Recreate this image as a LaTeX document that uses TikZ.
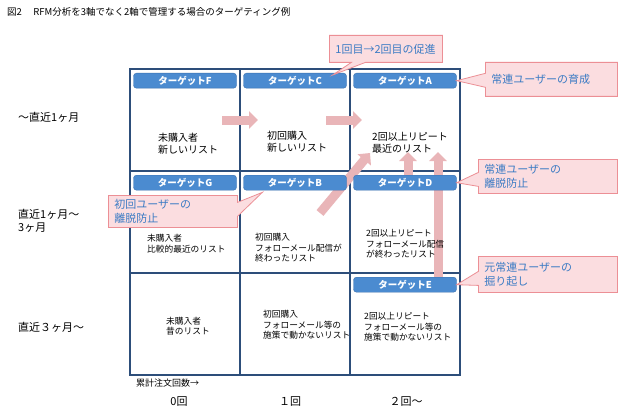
\documentclass[tikz,border=0pt]{standalone}
\usepackage{fontspec}
\setmainfont{Noto Sans CJK JP}
\usetikzlibrary{shapes.callouts, arrows.meta, positioning}

\definecolor{gridblue}{HTML}{2D4E7A}
\definecolor{tagblue}{HTML}{4B8BD0}
\definecolor{tagedge}{HTML}{3A70AE}
\definecolor{notefill}{HTML}{FBDDE0}
\definecolor{noteedge}{HTML}{EC8F95}
\definecolor{notetext}{HTML}{3B7BC4}
\definecolor{flowpink}{HTML}{E9B5B8}

\begin{document}
\begin{tikzpicture}[x=1pt, y=-1pt,
  every node/.style={align=left, inner sep=0pt},
  cell/.style={rectangle, draw=gridblue, line width=1.4pt, outer sep=0pt, minimum width=110pt, minimum height=102pt},
  target/.style={rectangle, rounded corners=3pt, fill=tagblue, draw=tagedge, text=white, font=\fontsize{9.5}{11}\selectfont\bfseries, minimum width=103pt, minimum height=15pt},
  listtext/.style={anchor=west, font=\fontsize{8.7}{10.6}\selectfont},
  axis/.style={anchor=west, font=\fontsize{11}{13.5}\selectfont},
  note/.style={rectangle callout, anchor=north west, fill=notefill, draw=noteedge, line width=0.8pt, text=notetext, font=\fontsize{11}{14}\selectfont, inner xsep=6pt, inner ysep=3pt, callout pointer width=14pt},
  flow/.style={-{Triangle[length=9pt, width=17pt]}, line width=9pt, flowpink}
]
\useasboundingbox[fill=white] (0,0) rectangle (620,417);

% Title
\node[anchor=west, font=\fontsize{9.5}{11}\selectfont] (title) at (7,12) {図2\hspace{1.2em}RFM分析を3軸でなく2軸で管理する場合のターゲティング例};

% Grid (rows: recency, columns: order count)
\node[cell] (c11) at (185,120) {};
\node[cell, right=0pt of c11] (c12) {};
\node[cell, right=0pt of c12] (c13) {};
\node[cell, below=0pt of c11] (c21) {};
\node[cell, right=0pt of c21] (c22) {};
\node[cell, right=0pt of c22] (c23) {};
\node[cell, below=0pt of c21] (c31) {};
\node[cell, right=0pt of c31] (c32) {};
\node[cell, right=0pt of c32] (c33) {};

% Flow arrows
\coordinate (fcTail) at (222,120);
\coordinate (fcHead) at (258,120);
\coordinate (caTail) at (326,120);
\coordinate (caHead) at (362,120);
\coordinate (baTail) at (320,213);
\coordinate (baHead) at (370,153);
\coordinate (daTail) at (408,177);
\coordinate (daHead) at (408,152);
\coordinate (eaTail) at (438,279);
\coordinate (eaHead) at (438,152);
\draw[flow] (fcTail) -- (fcHead);
\draw[flow] (caTail) -- (caHead);
\draw[flow] (baTail) -- (baHead);
\draw[flow] (daTail) -- (daHead);
\draw[flow] (eaTail) -- (eaHead);

% Targets
\node[target, below=4pt of c11.north] (tF) {ターゲットF};
\node[target, below=4pt of c12.north] (tC) {ターゲットC};
\node[target, below=4pt of c13.north] (tA) {ターゲットA};
\node[target, below=4pt of c21.north] (tG) {ターゲットG};
\node[target, below=4pt of c22.north] (tB) {ターゲットB};
\node[target, below=4pt of c23.north] (tD) {ターゲットD};
\node[target, below=4pt of c33.north] (tE) {ターゲットE};

% Lists
\node[listtext, font=\fontsize{10}{12}\selectfont] (txt11) at (158,144) {未購入者\\新しいリスト};
\node[listtext, font=\fontsize{10}{12}\selectfont] (txt12) at (267,142) {初回購入\\新しいリスト};
\node[listtext, font=\fontsize{10}{12}\selectfont] (txt13) at (372,143) {2回以上リピート\\最近のリスト};
\node[listtext] (txt21) at (147,244) {未購入者\\比較的最近のリスト};
\node[listtext] (txt22) at (255,248) {初回購入\\フォローメール配信が\\終わったリスト};
\node[listtext] (txt23) at (366,244) {2回以上リピート\\フォローメール配信\\が終わったリスト};
\node[listtext] (txt31) at (166,326) {未購入者\\昔のリスト};
\node[listtext] (txt32) at (263,325) {初回購入\\フォローメール等の\\施策で動かないリスト};
\node[listtext] (txt33) at (364,327) {2回以上リピート\\フォローメール等の\\施策で動かないリスト};

% Axes
\node[axis] (month1) at (18,117) {～直近1ヶ月};
\node[axis] (month3) at (18,221) {直近1ヶ月～\\3ヶ月};
\node[axis] (monthOld) at (18,327) {直近３ヶ月～};
\node[anchor=west, font=\fontsize{9}{11}\selectfont] (count) at (136,383) {累計注文回数→};
\node[font=\fontsize{11}{13}\selectfont] (zero) at (179,402) {0回};
\node[font=\fontsize{11}{13}\selectfont] (one) at (290,402) {１回};
\node[font=\fontsize{11}{13}\selectfont] (two) at (406,402) {２回～};

% Callouts
\node[note, text width=101pt, minimum height=27pt, callout absolute pointer={([xshift=-14pt,yshift=-2pt]tC.north east)}] (noteC) at (329,35) {1回目→2回目の促進};
\node[note, text width=120pt, minimum height=34pt, callout absolute pointer={(tA.east)}] (noteA) at (485,62) {常連ユーザーの育成};
\node[note, text width=127pt, minimum height=34pt, callout absolute pointer={(tD.east)}] (noteD) at (478,159) {常連ユーザーの\\離脱防止};
\node[note, text width=117pt, minimum height=32pt, callout absolute pointer={([xshift=19pt,yshift=-2pt]tB.south west)}] (noteB) at (108,195) {初回ユーザーの\\離脱防止};
\node[note, text width=127pt, minimum height=36pt, callout absolute pointer={(tE.east)}] (noteE) at (478,256) {元常連ユーザーの\\掘り起し};

\end{tikzpicture}
\end{document}
